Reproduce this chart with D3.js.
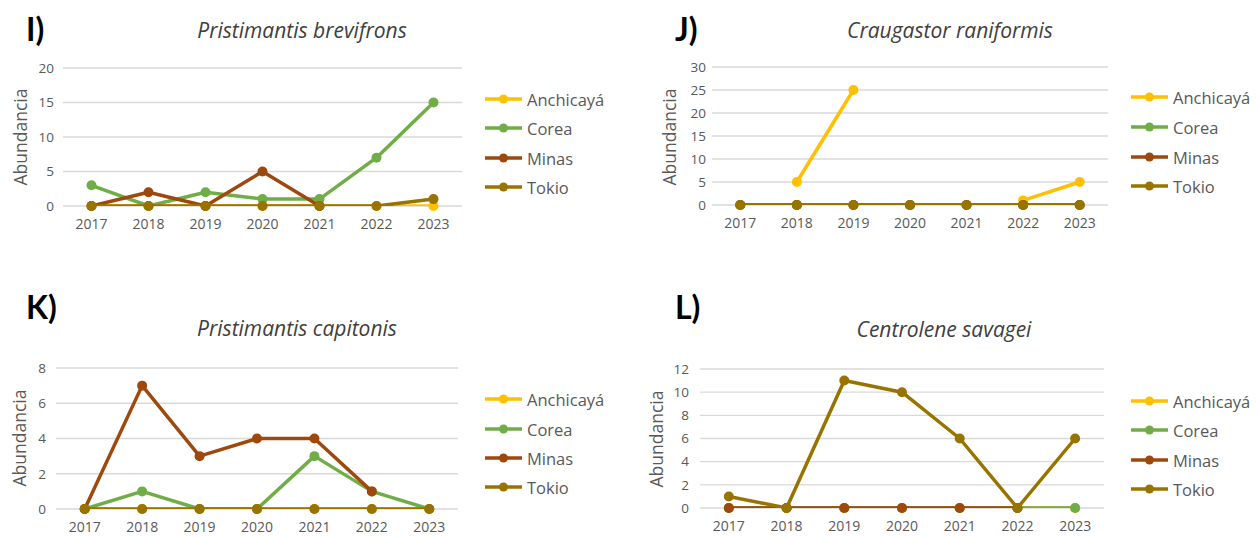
<!DOCTYPE html>
<html><head><meta charset="utf-8">
<script src="https://cdn.jsdelivr.net/npm/d3@7"></script>
<style>body{margin:0;background:#fff;} svg{display:block;font-family:"Open Sans", Lato, sans-serif;}</style>
</head><body>
<svg id="c" width="1258" height="537"></svg>
<script>
const years = ["2017","2018","2019","2020","2021","2022","2023"];
const seriesNames = ["Anchicayá","Corea","Minas","Tokio"];
const seriesColors = ["#FFC000","#70AD47","#9E480E","#997300"];

// Panel I: Pristimantis brevifrons
const I_anchicaya = [0,0,0,0,0,0,0];
const I_corea     = [3,0,2,1,1,7,15];
const I_minas     = [0,2,0,5,0,null,null];
const I_tokio     = [0,0,0,0,0,0,1];
// Panel J: Craugastor raniformis
const J_anchicaya = [null,5,25,null,null,1,5];
const J_corea     = [0,0,0,0,0,0,0];
const J_minas     = [0,0,0,0,0,0,0];
const J_tokio     = [0,0,0,0,0,0,0];
// Panel K: Pristimantis capitonis
const K_anchicaya = [0,0,0,0,0,0,0];
const K_corea     = [0,1,0,0,3,1,0];
const K_minas     = [0,7,3,4,4,1,null];
const K_tokio     = [0,0,0,0,0,0,0];
// Panel L: Centrolene savagei
const L_anchicaya = [0,0,0,0,0,0,0];
const L_corea     = [0,0,0,0,0,0,0];
const L_minas     = [0,0,0,0,0,0,null];
const L_tokio     = [1,0,11,10,6,0,6];

const panelTitles = ["Pristimantis brevifrons","Craugastor raniformis","Pristimantis capitonis","Centrolene savagei"];
const panelLetters = ["I)","J)","K)","L)"];
const yMax = [20,30,8,12];
const yStep = [5,5,2,2];
const yAxisTitle = "Abundancia";

const panelSeries = [
  [I_anchicaya,I_corea,I_minas,I_tokio],
  [J_anchicaya,J_corea,J_minas,J_tokio],
  [K_anchicaya,K_corea,K_minas,K_tokio],
  [L_anchicaya,L_corea,L_minas,L_tokio]
];

// layout
const layouts = [
  {x0:63,x1:462,yt:68,yb:206,tickGap:9,titleX:302,titleY:38,letX:26,letY:41,ytX:20,ytY:137,legX:485,legY:[99,128,158,187]},
  {x0:712,x1:1108,yt:67,yb:205,tickGap:6,titleX:950,titleY:38,letX:675,letY:41,ytX:669,ytY:137,legX:1131,legY:[97,127,157,186]},
  {x0:56,x1:458,yt:368,yb:509,tickGap:10,titleX:297,titleY:336,letX:26,letY:319,ytX:19,ytY:438,legX:485,legY:[399,429,458,487]},
  {x0:700,x1:1104,yt:369,yb:508,tickGap:11,titleX:944,titleY:337,letX:675,letY:319,ytX:656,ytY:439,legX:1131,legY:[401,430,460,489]}
];

const svg = d3.select("#c");
const textColor = "#595959";
const font = "'Open Sans', Lato, sans-serif";

layouts.forEach((L,pi)=>{
  const g = svg.append("g");
  const x = d3.scaleBand().domain(years).range([L.x0,L.x1]);
  const y = d3.scaleLinear().domain([0,yMax[pi]]).range([L.yb,L.yt]);
  const ticks = d3.range(0,yMax[pi]+0.001,yStep[pi]);

  // gridlines
  g.append("g").selectAll("line").data(ticks).join("line")
    .attr("x1",L.x0).attr("x2",L.x1)
    .attr("y1",d=>y(d)).attr("y2",d=>y(d))
    .attr("stroke","#D9D9D9").attr("stroke-width",1.3);

  // y axis labels
  const ya = g.append("g").attr("transform",`translate(${L.x0-L.tickGap},0)`)
    .call(d3.axisLeft(y).tickValues(ticks).tickSize(0).tickPadding(0));
  ya.select(".domain").remove();
  ya.selectAll("text").attr("fill",textColor).style("font-size","13.5px").style("font-family",font);

  // x axis labels
  const xa = g.append("g").attr("transform",`translate(0,${L.yb+13})`)
    .call(d3.axisBottom(x).tickSize(0).tickPadding(0));
  xa.select(".domain").remove();
  xa.selectAll("text").attr("fill",textColor).style("font-size","14px").style("font-family",font);

  // clip for lines (Excel clips series at the plot area)
  const cid = "clip"+pi;
  svg.append("clipPath").attr("id",cid).append("rect")
    .attr("x",L.x0).attr("y",L.yt-10).attr("width",L.x1-L.x0).attr("height",L.yb-L.yt+10);

  const line = d3.line().defined(d=>d.v!==null)
    .x(d=>x(d.yr)+x.bandwidth()/2).y(d=>y(d.v));

  panelSeries[pi].forEach((vals,si)=>{
    const data = vals.map((v,i)=>({yr:years[i],v:v}));
    g.append("path").datum(data).attr("d",line)
      .attr("fill","none").attr("stroke",seriesColors[si]).attr("stroke-width",3.5)
      .attr("stroke-linejoin","round").attr("clip-path",`url(#${cid})`);
    g.append("g").selectAll("circle").data(data.filter(d=>d.v!==null)).join("circle")
      .attr("cx",d=>x(d.yr)+x.bandwidth()/2).attr("cy",d=>y(d.v)).attr("r",5)
      .attr("fill",seriesColors[si]);
  });

  // title
  g.append("text").attr("x",L.titleX).attr("y",L.titleY).attr("text-anchor","middle")
    .style("font-style","italic").style("font-size","21px").style("font-family",font)
    .attr("fill","#404040").text(panelTitles[pi]);
  // letter
  g.append("text").attr("x",L.letX).attr("y",L.letY)
    .style("font-weight","bold").style("font-size","32px").style("font-family","Lato, sans-serif")
    .attr("fill","#000").text(panelLetters[pi]);
  // y axis title
  g.append("text").attr("transform",`translate(${L.ytX},${L.ytY}) rotate(-90)`)
    .attr("text-anchor","middle").attr("dominant-baseline","central")
    .style("font-size","17.5px").style("font-family",font).attr("fill",textColor).text(yAxisTitle);

  // legend
  const lg = g.append("g");
  seriesNames.forEach((n,si)=>{
    const ly = L.legY[si];
    lg.append("line").attr("x1",L.legX).attr("x2",L.legX+37).attr("y1",ly).attr("y2",ly)
      .attr("stroke",seriesColors[si]).attr("stroke-width",3.5);
    lg.append("circle").attr("cx",L.legX+18.5).attr("cy",ly).attr("r",4.5).attr("fill",seriesColors[si]);
    lg.append("text").attr("x",L.legX+42).attr("y",ly).attr("dominant-baseline","central")
      .style("font-size","16.5px").style("font-family",font).attr("fill",textColor).text(n);
  });
});
</script>
</body></html>
